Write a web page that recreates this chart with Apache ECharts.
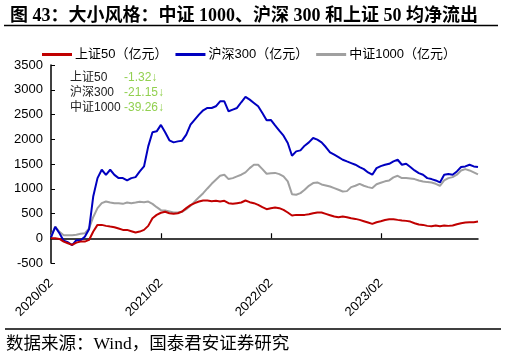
<!DOCTYPE html>
<html>
<head>
<meta charset="utf-8">
<script src="https://cdn.jsdelivr.net/npm/echarts@6/dist/echarts.min.js"></script>
<style>html,body{margin:0;padding:0;background:#fff}#c{width:507px;height:360px}</style>
</head>
<body>
<div id="c"></div>
<script>
// Biweekly observation dates starting 2020-02-07 (102 points)
const startDate = '2020-02-07';
const pointCount = 102;
const tickLabels = ['2020/02', '2021/02', '2022/02', '2023/02'];
const seriesNames = ['上证50（亿元）', '沪深300（亿元）', '中证1000（亿元）'];
const noteNames = ['上证50', '沪深300', '中证1000'];
const noteValues = ['-1.32↓', '-21.15↓', '-39.26↓'];

const sz50 = [0,0,-13,-67,-101,-135,-88,-67,-67,-34,135,270,270,250,236,223,196,169,169,142,115,135,169,250,405,472,515,535,506,493,506,540,608,668,709,742,763,763,749,756,742,756,709,695,709,722,763,729,709,675,628,587,608,621,608,574,520,459,472,472,472,486,506,520,520,493,466,439,425,439,425,405,391,371,344,317,290,324,345,370,385,385,371,358,351,337,304,277,270,250,243,256,243,256,250,256,283,304,317,324,324,337];
const hs300 = [20,230,100,-50,-80,-140,-40,-40,30,180,850,1215,1384,1280,1384,1280,1215,1215,1168,1215,1235,1350,1450,1856,2140,2160,2290,2140,1978,1937,1957,1971,2092,2295,2396,2497,2585,2632,2632,2666,2767,2767,2565,2599,2632,2747,2855,2801,2734,2666,2531,2383,2390,2280,2173,2072,1924,1667,1755,1775,1870,1937,2025,1991,1937,1843,1735,1688,1640,1586,1552,1519,1485,1438,1397,1330,1283,1417,1458,1485,1505,1552,1586,1485,1505,1438,1370,1316,1283,1215,1195,1168,1127,1283,1296,1283,1350,1438,1451,1485,1451,1438];
const zz1000 = [40,235,130,60,60,60,70,90,100,200,430,608,709,742,722,709,709,695,722,709,722,736,729,742,695,628,567,560,540,520,520,533,587,655,742,830,911,1006,1100,1181,1262,1283,1195,1215,1249,1283,1330,1417,1485,1485,1397,1303,1315,1320,1296,1249,1148,891,878,911,979,1060,1114,1127,1087,1067,1046,1013,979,945,952,1033,1060,1100,1060,1033,1013,1090,1120,1150,1168,1229,1262,1215,1215,1208,1195,1168,1148,1134,1127,1100,1060,1168,1215,1235,1283,1370,1397,1370,1330,1290];

const dates = [];
{
  const d0 = new Date(startDate + 'T00:00:00Z');
  for (let i = 0; i < pointCount; i++) {
    const d = new Date(d0.getTime() + i * 14 * 86400000);
    const m = String(d.getUTCMonth() + 1).padStart(2, '0');
    const dd = String(d.getUTCDate()).padStart(2, '0');
    dates.push(d.getUTCFullYear() + '/' + m + '/' + dd);
  }
}

const colors = ['#c00000', '#0000c0', '#a0a0a0'];
const sans = 'Liberation Sans, Noto Sans CJK SC, sans-serif';
const chart = echarts.init(document.getElementById('c'), null, {renderer: 'canvas'});

const noteGraphics = [];
noteNames.forEach((n, k) => {
  noteGraphics.push({type: 'text', left: 70, top: 72 + k * 15, style: {text: n, font: '12px ' + sans, fill: '#222'}});
  noteGraphics.push({type: 'text', left: 124, top: 72 + k * 15, style: {text: noteValues[k], font: '12px ' + sans, fill: '#92d050'}});
});

chart.setOption({
  animation: false,
  backgroundColor: '#fff',
  color: colors,
  title: {
    text: '图 43：大小风格：中证 1000、沪深 300 和上证 50 均净流出',
    left: 5, top: 2,
    textStyle: {fontSize: 18, fontWeight: 'bold', color: '#000', fontFamily: 'Liberation Serif, Noto Sans CJK SC'}
  },
  legend: {
    data: seriesNames,
    left: 37, top: 43,
    icon: 'rect', itemWidth: 30, itemHeight: 3, itemGap: 8,
    textStyle: {fontSize: 13, color: '#000', fontFamily: sans, padding: [0, 0, 0, -2]}
  },
  grid: {left: 51, right: 29, top: 65, bottom: 97, containLabel: false},
  xAxis: [
    {
      type: 'category', data: dates, boundaryGap: false, position: 'bottom',
      axisLine: {show: false, onZero: false}, axisTick: {show: false},
      axisLabel: {interval: 25, rotate: 45, margin: 18, fontSize: 13, color: '#000', fontFamily: sans,
        formatter: (v, i) => tickLabels[Math.round(i / 26)] || v.slice(0, 7)}
    },
    {
      type: 'category', data: dates, boundaryGap: false, position: 'bottom',
      axisLine: {show: true, onZero: true, lineStyle: {color: '#000', width: 1.5}},
      axisTick: {show: true, inside: true, interval: 25, length: 5, lineStyle: {color: '#000', width: 1.2}},
      axisLabel: {show: false}
    }
  ],
  yAxis: {
    type: 'value', min: -500, max: 3500, interval: 500,
    axisLine: {show: true, lineStyle: {color: '#000', width: 1.5}},
    axisTick: {show: true, inside: true, length: 4, lineStyle: {color: '#000'}},
    splitLine: {show: false},
    axisLabel: {fontSize: 13, color: '#000', margin: 8, fontFamily: sans, formatter: v => String(v)}
  },
  series: [
    {name: seriesNames[0], type: 'line', data: sz50, showSymbol: false, lineStyle: {width: 2}, z: 4},
    {name: seriesNames[1], type: 'line', data: hs300, showSymbol: false, lineStyle: {width: 2}, z: 3},
    {name: seriesNames[2], type: 'line', data: zz1000, showSymbol: false, lineStyle: {width: 2}, z: 2}
  ],
  graphic: [
    {type: 'line', shape: {x1: 4, y1: 25.5, x2: 498, y2: 25.5}, style: {stroke: '#000', lineWidth: 1.5}},
    {type: 'line', shape: {x1: 5, y1: 329, x2: 501, y2: 329}, style: {stroke: '#000', lineWidth: 1.5}},
    {type: 'text', left: 6, top: 336, style: {text: '数据来源：Wind，国泰君安证券研究', font: '17.5px Liberation Serif, Noto Sans CJK SC', fill: '#000'}}
  ].concat(noteGraphics)
});
</script>
</body>
</html>
